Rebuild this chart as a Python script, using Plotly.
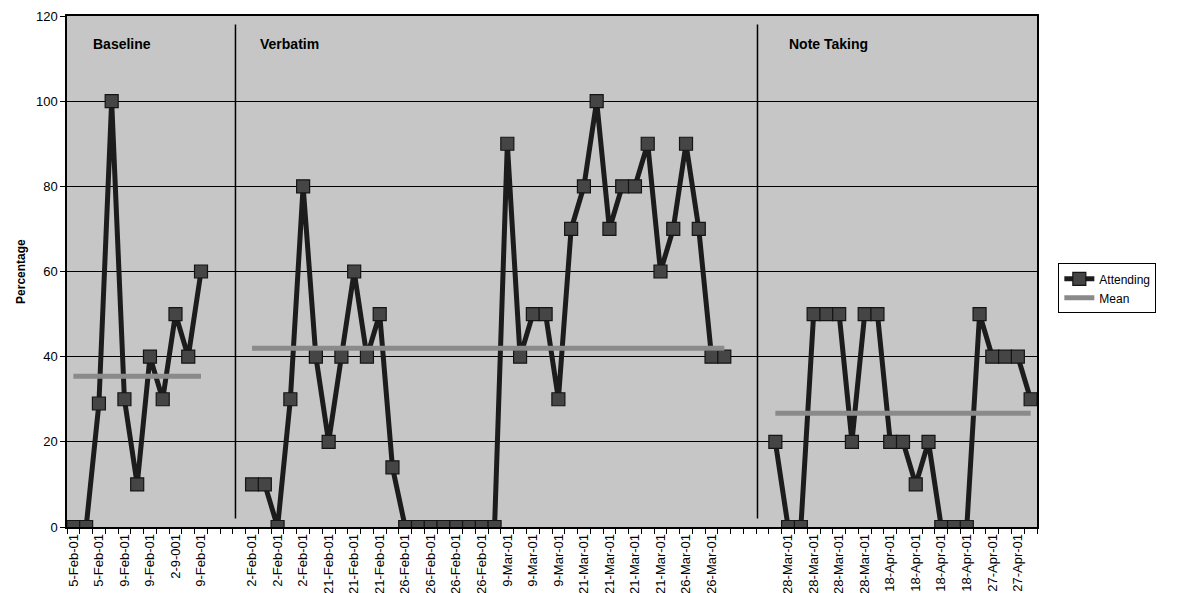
import plotly.graph_objects as go

# ---------------- data ----------------
n_categories = 76

baseline_start = 0
baseline_values = [0, 0, 29, 100, 30, 10, 40, 30, 50, 40, 60]

verbatim_start = 14
verbatim_values = [10, 10, 0, 30, 80, 40, 20, 40, 60, 40, 50, 14,
                   0, 0, 0, 0, 0, 0, 0, 0,
                   90, 40, 50, 50, 30, 70, 80, 100, 70, 80, 80, 90, 60, 70, 90, 70, 40, 40]

notetaking_start = 55
notetaking_values = [20, 0, 0, 50, 50, 50, 20, 50, 50, 20, 20, 10, 20, 0, 0, 0, 50, 40, 40, 40, 30]

phase_names = ["Baseline", "Verbatim", "Note Taking"]
phase_starts = [baseline_start, verbatim_start, notetaking_start]
phase_values = [baseline_values, verbatim_values, notetaking_values]
mean_values = [35.4, 42.0, 26.7]

# tick labels shown on every second category (even category numbers)
tick_labels = ["5-Feb-01", "5-Feb-01", "9-Feb-01", "9-Feb-01", "2-9-001", "9-Feb-01", "",
               "2-Feb-01", "2-Feb-01", "2-Feb-01", "21-Feb-01", "21-Feb-01", "21-Feb-01",
               "26-Feb-01", "26-Feb-01", "26-Feb-01", "26-Feb-01",
               "9-Mar-01", "9-Mar-01", "9-Mar-01", "21-Mar-01", "21-Mar-01", "21-Mar-01", "21-Mar-01",
               "26-Mar-01", "26-Mar-01", "", "",
               "28-Mar-01", "28-Mar-01", "28-Mar-01", "28-Mar-01",
               "18-Apr-01", "18-Apr-01", "18-Apr-01", "18-Apr-01", "27-Apr-01", "27-Apr-01"]

# phase change lines (in category units) and label anchor positions
phase_change_x = [12.7, 53.6]
phase_label_x = [1.4, 14.5, 55.9]

# ---------------- build series ----------------
att_x, att_y = [], []
mean_x, mean_y = [], []
for start, vals, m in zip(phase_starts, phase_values, mean_values):
    xs = list(range(start, start + len(vals)))
    att_x += xs + [None]
    att_y += vals + [None]
    mean_x += [xs[0], xs[-1], None]
    mean_y += [m, m, None]

FONT = "Arial, 'Liberation Sans', sans-serif"

fig = go.Figure()
fig.add_trace(go.Scatter(
    x=att_x, y=att_y, mode="lines+markers", name="Attending",
    line=dict(color="#1c1c1c", width=5),
    marker=dict(symbol="square", size=13, color="#454545",
                line=dict(color="#151515", width=1.2)),
    connectgaps=False,
))
fig.add_trace(go.Scatter(
    x=mean_x, y=mean_y, mode="lines", name="Mean",
    line=dict(color="#8a8a8a", width=5),
    connectgaps=False,
))

for px in phase_change_x:
    fig.add_shape(type="line", xref="x", yref="y", x0=px, x1=px, y0=2, y1=118,
                  line=dict(color="black", width=1.5))

for name, lx in zip(phase_names, phase_label_x):
    fig.add_annotation(x=lx, y=113.5, xref="x", yref="y", text="<b>%s</b>" % name,
                       showarrow=False, xanchor="left", yanchor="middle",
                       font=dict(family=FONT, size=14, color="black"))

fig.add_annotation(x=-0.048, y=0.5, xref="paper", yref="paper", text="<b>Percentage</b>",
                   textangle=-90, showarrow=False, xanchor="center", yanchor="middle",
                   font=dict(family=FONT, size=12, color="black"))

tick_vals = list(range(0, n_categories, 2))
boundaries = [i - 0.5 for i in range(n_categories + 1)]

# the page body adds an 8px offset; the figure is sized to fit the window
fig.update_layout(
    template="none",
    width=1172, height=585,
    margin=dict(l=59, r=143, t=8, b=66, autoexpand=False),
    paper_bgcolor="white",
    plot_bgcolor="#c6c6c6",
    font=dict(family=FONT, size=12, color="black"),
    showlegend=True,
    legend=dict(x=1.022, y=0.516, xanchor="left", yanchor="top",
                bgcolor="white", bordercolor="black", borderwidth=1,
                font=dict(family=FONT, size=12, color="black"),
                tracegroupgap=0, itemwidth=30),
    xaxis=dict(
        range=[-0.5, n_categories - 0.5],
        tickmode="array", tickvals=tick_vals, ticktext=tick_labels,
        tickangle=-90, ticks="", showgrid=False, zeroline=False,
        showline=True, linecolor="black", linewidth=1.5, mirror=True,
        tickfont=dict(family=FONT, size=13, color="black"),
        ticklabeloverflow="allow",
        automargin=False,
        minor=dict(tickmode="array", tickvals=boundaries, ticks="outside",
                   ticklen=5, tickcolor="black", tickwidth=1, showgrid=False),
    ),
    yaxis=dict(
        range=[0, 120], tickmode="linear", tick0=0, dtick=20,
        ticks="outside", ticklen=5, tickcolor="black",
        showgrid=True, gridcolor="black", gridwidth=1, zeroline=False,
        showline=True, linecolor="black", linewidth=1.5, mirror=True,
        tickfont=dict(family=FONT, size=13, color="black"),
        ticklabeloverflow="allow",
        automargin=False,
    ),
)

fig.write_html("out.html")
